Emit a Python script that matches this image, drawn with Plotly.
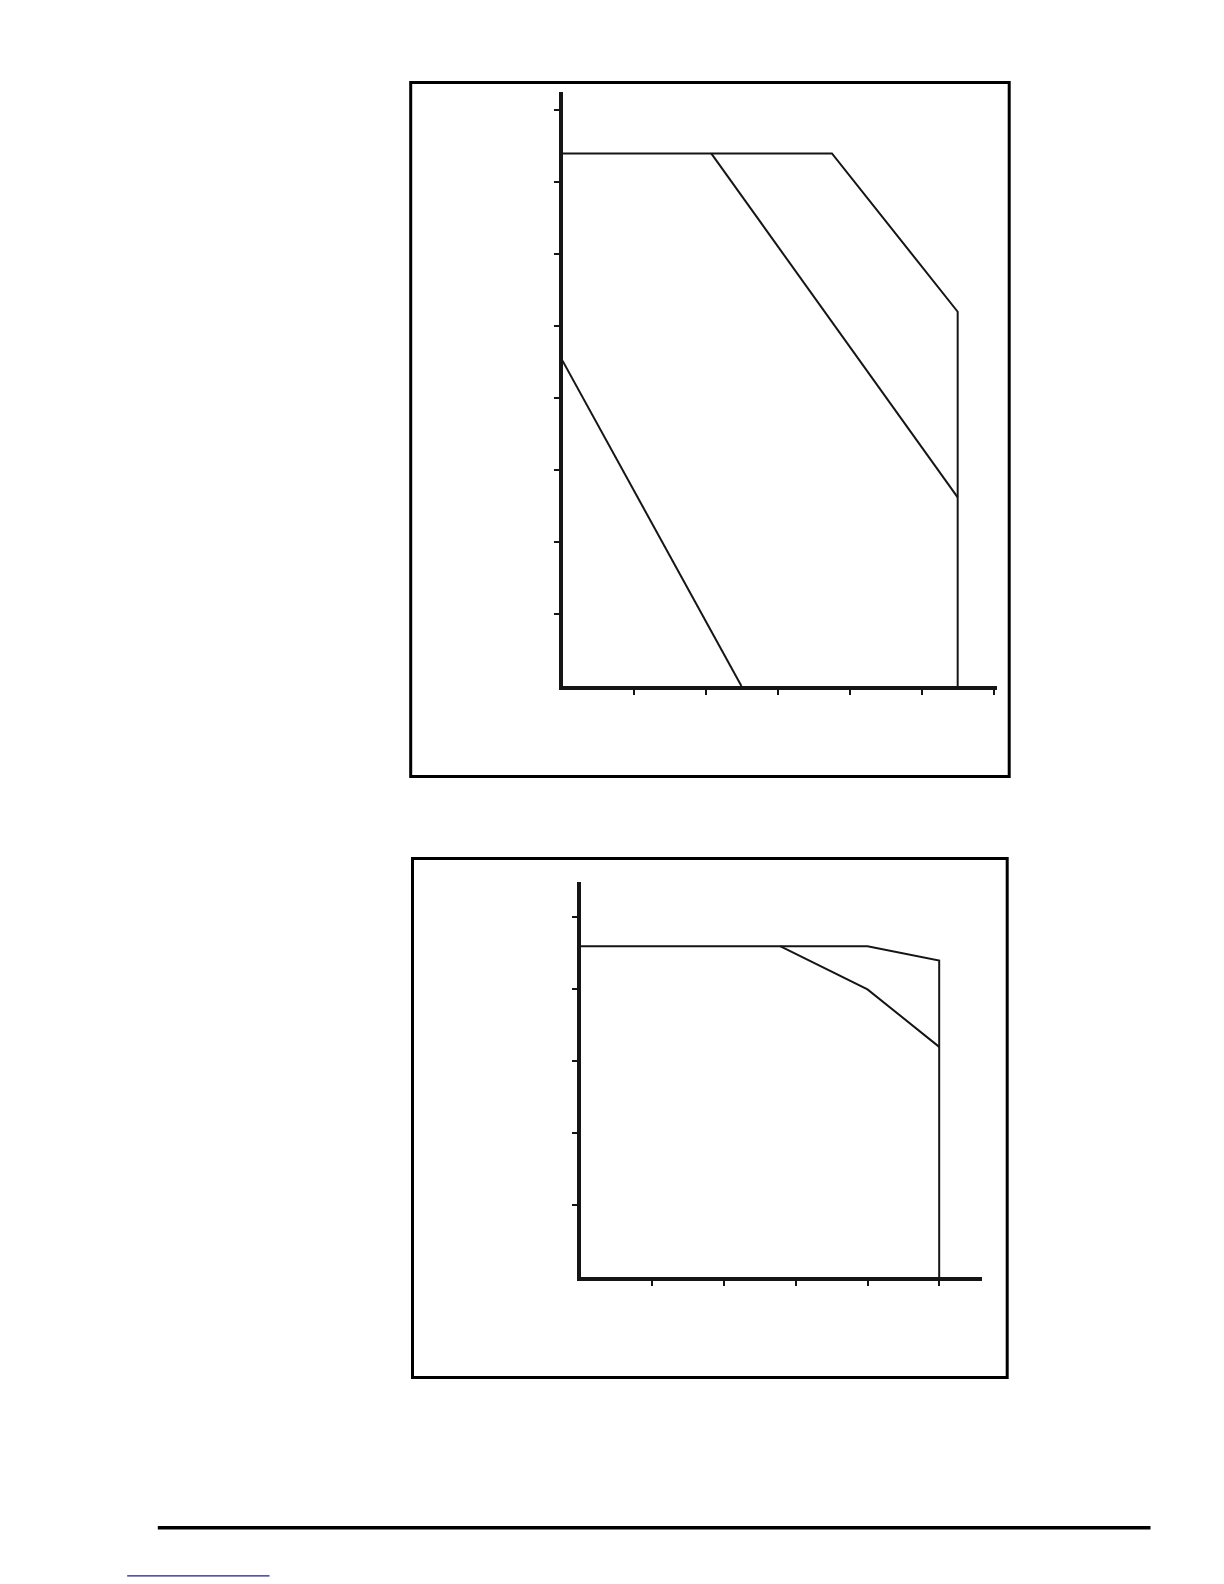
import plotly.graph_objects as go

W, H = 1224, 1584

# ---- Data: chart 1 (top) ----
c1_outer_x = [0, 3.75, 5.5, 5.5]
c1_outer_y = [7.4, 7.4, 5.2, 0]
c1_mid_x = [2.07, 5.5]
c1_mid_y = [7.4, 2.62]
c1_low_x = [0, 2.49]
c1_low_y = [4.52, 0]
c1_xticks = [1, 2, 3, 4, 5, 6]
c1_yticks = [1, 2, 3, 4, 5, 6, 7, 8]

# ---- Data: chart 2 (bottom) ----
c2_outer_x = [0, 4, 5, 5]
c2_outer_y = [4.6, 4.6, 4.4, 0]
c2_inner_x = [2.78, 4, 5]
c2_inner_y = [4.6, 4.0, 3.2]
c2_xticks = [1, 2, 3, 4, 5]
c2_yticks = [1, 2, 3, 4, 5]

INK = "#151515"
LINE_W = 2
DX, DY = -7.5, -7.5

def px(x):
    return (x + DX) / W

def py(y):
    return 1 - (y + DY) / H

fig = go.Figure()

for xs, ys in [(c1_outer_x, c1_outer_y), (c1_mid_x, c1_mid_y), (c1_low_x, c1_low_y)]:
    fig.add_trace(go.Scatter(x=xs, y=ys, mode="lines", line=dict(color=INK, width=LINE_W),
                             xaxis="x", yaxis="y", showlegend=False, hoverinfo="skip"))
for xs, ys in [(c2_outer_x, c2_outer_y), (c2_inner_x, c2_inner_y)]:
    fig.add_trace(go.Scatter(x=xs, y=ys, mode="lines", line=dict(color=INK, width=LINE_W),
                             xaxis="x2", yaxis="y2", showlegend=False, hoverinfo="skip"))

axis_common = dict(showgrid=False, zeroline=False, showline=True, linecolor=INK, linewidth=3.5,
                   ticks="outside", ticklen=5, tickwidth=2, tickcolor=INK,
                   showticklabels=False, tickmode="array", fixedrange=True)

fig.update_layout(
    width=W, height=H,
    margin=dict(l=0, r=0, t=0, b=0),
    paper_bgcolor="white", plot_bgcolor="white",
    showlegend=False,
    xaxis=dict(domain=[px(562), px(996.7)], range=[0, 6.05], anchor="y",
               tickvals=c1_xticks, **axis_common),
    yaxis=dict(domain=[py(685.5), py(91)], range=[0, 8.26], anchor="x",
               tickvals=c1_yticks, **axis_common),
    xaxis2=dict(domain=[px(580.3), px(981.7)], range=[0, 5.6], anchor="y2",
                tickvals=c2_xticks, **axis_common),
    yaxis2=dict(domain=[py(1276.5), py(881)], range=[0, 5.5], anchor="x2",
                tickvals=c2_yticks, **axis_common),
    shapes=[
        dict(type="rect", xref="paper", yref="paper",
             x0=px(410.2), x1=px(1008.7), y0=py(776), y1=py(82),
             line=dict(color="black", width=3)),
        dict(type="rect", xref="paper", yref="paper",
             x0=px(412), x1=px(1006.7), y0=py(1377), y1=py(858),
             line=dict(color="black", width=3)),
        dict(type="line", xref="paper", yref="paper",
             x0=px(157.3), x1=px(1150), y0=py(1527.3), y1=py(1527.3),
             line=dict(color="black", width=3.5)),
        dict(type="line", xref="paper", yref="paper",
             x0=px(126.7), x1=px(269), y0=py(1575.3), y1=py(1575.3),
             line=dict(color="#1c1c8c", width=1.3)),
    ],
)

fig.write_html("out.html", config={"displayModeBar": False})
